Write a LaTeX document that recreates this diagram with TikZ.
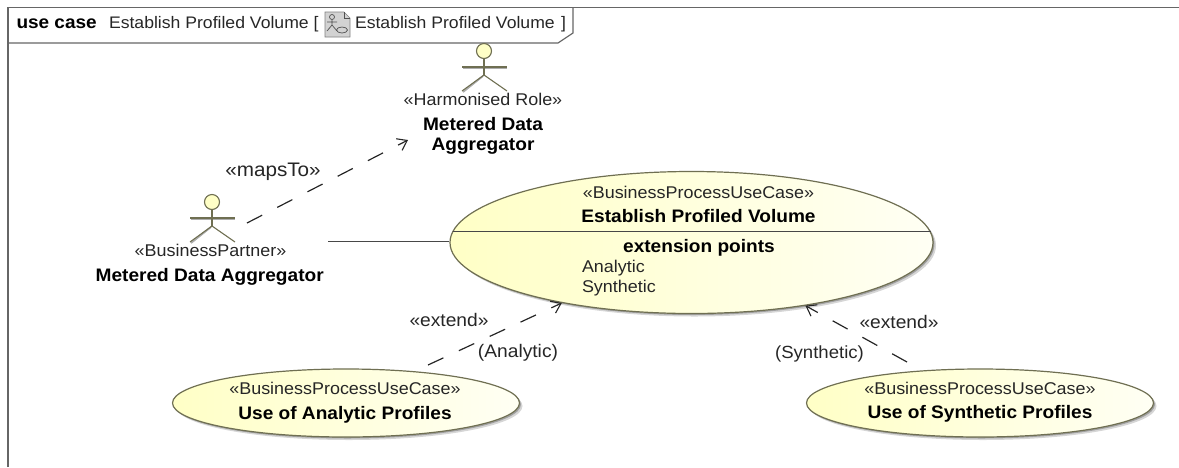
\documentclass[tikz,border=0pt]{standalone}
\usepackage{fontspec}
\setmainfont[FakeStretch=1.055]{Liberation Sans}
\usetikzlibrary{shapes.geometric,arrows.meta,shadows}
\definecolor{ucline}{HTML}{6F6F52}
\definecolor{ucfill}{HTML}{FFFFC6}
\definecolor{ucend}{HTML}{FFFFF4}
\definecolor{frameline}{HTML}{666666}
\definecolor{ink}{HTML}{262626}
\definecolor{shadowgray}{HTML}{8A8A8A}
\tikzset{
  x=1pt,y=-1pt,
  lbl/.style={inner sep=0pt,outer sep=0pt,anchor=base,text=ink,font=\fontsize{17}{20}\selectfont},
  lblbold/.style={lbl,font=\fontsize{18.1}{20}\selectfont\bfseries,text=black},
  conn/.style={lbl,font=\fontsize{18.2}{20}\selectfont},
  head/.style={lbl,anchor=base west,font=\fontsize{16.7}{20}\selectfont},
  uc/.style={shape=ellipse,draw=ucline,line width=1.2pt,left color=ucfill,right color=ucend,inner sep=0pt,
    drop shadow={shadow xshift=3pt,shadow yshift=-3pt,fill=shadowgray,opacity=.35},
    drop shadow={shadow xshift=1.5pt,shadow yshift=-1.5pt,fill=shadowgray,opacity=.7}},
  dep/.style={draw=ink,line width=1.2pt,dash pattern=on 17pt off 17pt,-{Straight Barb[length=9pt,width=13pt,line width=1.1pt]}},
  assoc/.style={draw=ink!85,line width=1pt},
  actorline/.style={draw=ucline,line width=1.1pt},
  actorshadow/.style={draw=shadowgray!70,line width=1.8pt},
  framestyle/.style={draw=frameline,line width=1.5pt},
  headbox/.style={draw=frameline,line width=1.2pt},
}
\newcommand{\actorfig}[2]{%
  \begin{scope}[shift={(#1,#2)}]
    \draw[actorshadow] (-21,1.5) -- (23,1.5);
    \draw[actorshadow] (-1,9) -- (-21,25);
    \draw[actorline] (-22,0) -- (23,0);
    \draw[actorline] (0,-8) -- (0,8);
    \draw[actorline] (-22,24) -- (0,8) -- (23,24);
    \filldraw[draw=ucline,fill=ucfill,line width=1.1pt] (0,-16) circle (7.5pt);
  \end{scope}}
\begin{document}
\begin{tikzpicture}
\useasboundingbox (0,0) rectangle (1179,467);
% frame
\draw[framestyle] (8,467) -- (8,7.5) -- (1179,7.5);
\draw[headbox] (8,43) -- (558,43) -- (573,33) -- (573,7.5);
\node[head,font=\fontsize{18}{20}\selectfont\bfseries,text=black] (kind) at (16.5,28) {use case};
\node[head] (title) at (109,28) {Establish Profiled Volume [};
\node[head] (title2) at (355,28) {Establish Profiled Volume};
\node[head] (brk) at (561,28) {]};
% diagram icon
\filldraw[draw=gray,fill=gray!35,line width=.7pt] (325,12) -- (344,12) -- (350,18) -- (350,37) -- (325,37) -- cycle;
\draw[ink!80,line width=.6pt] (344,12) -- (344,18) -- (350,18);
\draw[ink!80,line width=.7pt] (332,17) circle (2.5pt) (332,19.5) -- (332,25) (327,22) -- (337,22) (327,31) -- (332,25) -- (337,31);
\draw[ink!80,line width=.7pt] (342,30) ellipse (5.5pt and 3pt);
% actors
\actorfig{484}{67}
\actorfig{212}{218}
\coordinate (mapsFrom) at (247,223);
\coordinate (mapsEnd) at (408,140);
\node[lbl] (harmStereo) at (483,105.5) {«Harmonised Role»};
\node[lblbold] (harmA) at (483,130) {Metered Data};
\node[lblbold] (harmB) at (483,150.5) {Aggregator};
\node[lbl] (partStereo) at (210.5,256) {«BusinessPartner»};
\node[lblbold] (partName) at (209.7,281) {Metered Data Aggregator};
% use cases
\node[uc,minimum width=483pt,minimum height=142pt] (main) at (691.5,242.5) {};
\node[uc,minimum width=347pt,minimum height=68pt] (analytic) at (346,403) {};
\node[uc,minimum width=347pt,minimum height=68pt] (synthetic) at (980,403) {};
\coordinate (divL) at (452.5,231.5);
\coordinate (divR) at (930.5,231.5);
\draw[assoc] (divL) -- (divR);
\node[lbl] (mainStereo) at (698.5,198) {«BusinessProcessUseCase»};
\node[lblbold] (mainName) at (698.5,222.5) {Establish Profiled Volume};
\node[lblbold] (extPts) at (699,252.5) {extension points};
\node[lbl,anchor=base west] (ptA) at (582,272) {Analytic};
\node[lbl,anchor=base west] (ptS) at (582,292) {Synthetic};
\node[lbl] (aStereo) at (345,394.5) {«BusinessProcessUseCase»};
\node[lblbold] (aName) at (345,419) {Use of Analytic Profiles};
\node[lbl] (sStereo) at (980,394) {«BusinessProcessUseCase»};
\node[lblbold] (sName) at (980,418.5) {Use of Synthetic Profiles};
% connectors
\coordinate (assocStart) at (328,241);
\draw[assoc] (assocStart) -- (assocStart -| main.west);
\draw[dep] (mapsFrom) -- (mapsEnd);
\coordinate (extAStart) at (428,365);
\coordinate (extSStart) at (907,362);
\draw[dep] (extAStart) -- (main.205);
\draw[dep] (extSStart) -- (main.331);
% connector labels
\node[conn,font=\fontsize{19.6}{20}\selectfont] (mapsLbl) at (273,176.5) {«mapsTo»};
\node[conn] (extLbl1) at (449,326) {«extend»};
\node[conn] (extLbl2) at (899,328) {«extend»};
\node[conn] (anLbl) at (518,357) {(Analytic)};
\node[conn,font=\fontsize{17.6}{20}\selectfont] (syLbl) at (819.5,358) {(Synthetic)};
\end{tikzpicture}
\end{document}
